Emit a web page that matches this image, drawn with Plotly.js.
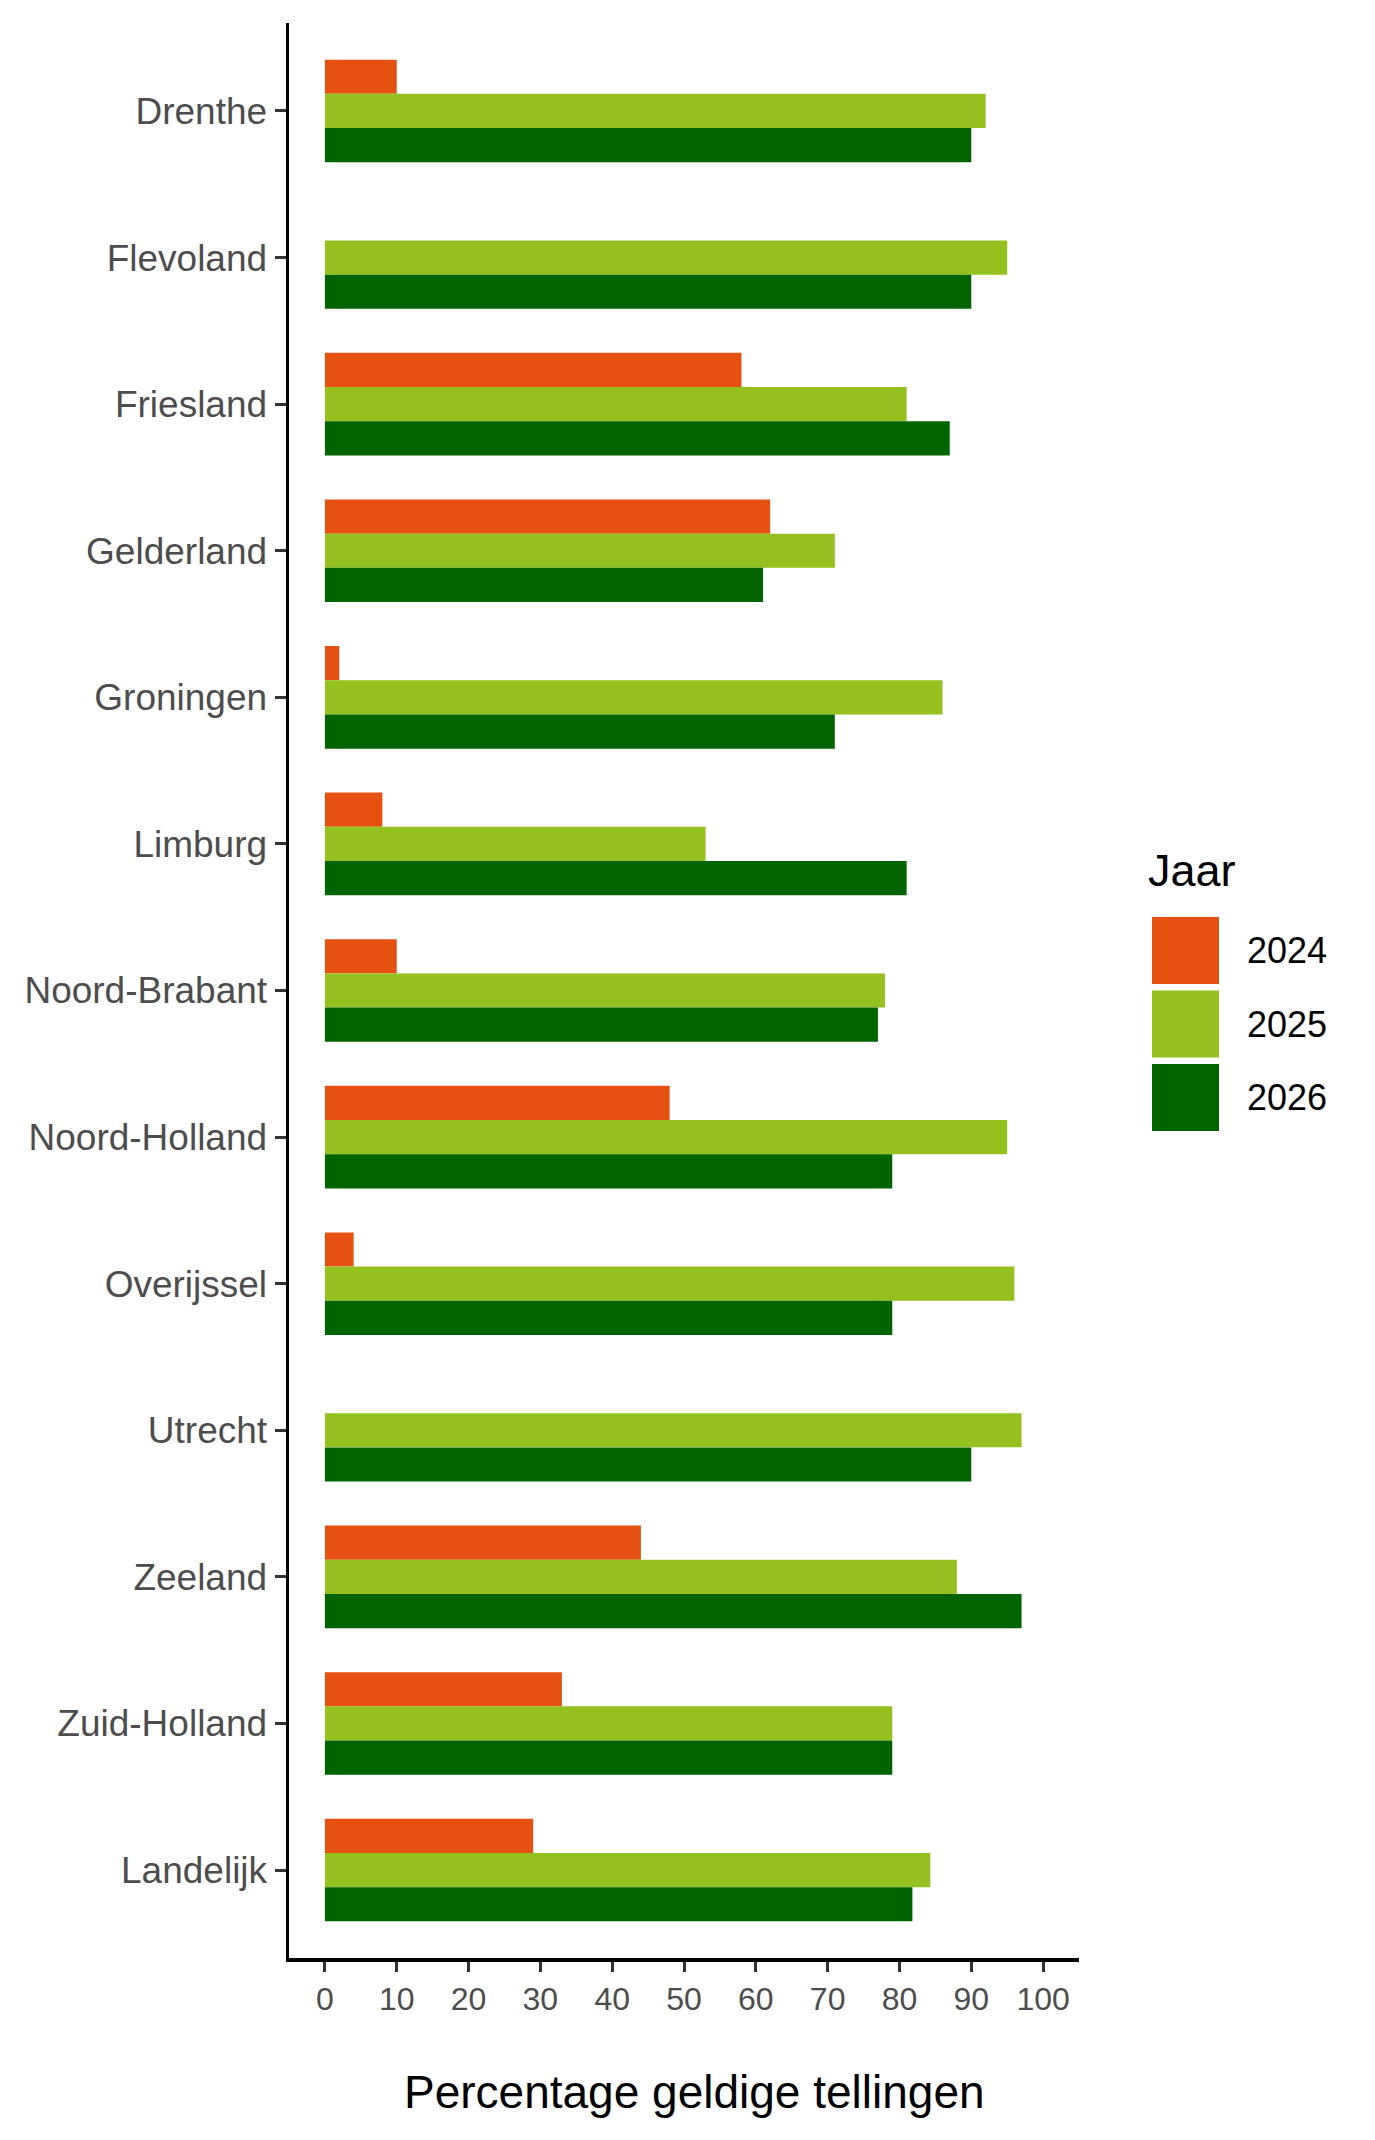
<!DOCTYPE html>
<html>
<head>
<meta charset="utf-8">
<script src="https://cdn.plot.ly/plotly-3.0.1.min.js"></script>
<style>
	html, body { margin: 0; padding: 0; background: #fff; }
	#chart { width: 1375px; height: 2140px; }
</style>
</head>
<body>
<div id="chart"></div>
<script>
// --- DATA ---
const provinces = ['Drenthe', 'Flevoland', 'Friesland', 'Gelderland', 'Groningen', 'Limburg',
	'Noord-Brabant', 'Noord-Holland', 'Overijssel', 'Utrecht', 'Zeeland', 'Zuid-Holland', 'Landelijk'];
const years = ['2024', '2025', '2026'];
const pct2024 = [10, 0, 58, 62, 2, 8, 10, 48, 4, 0, 44, 33, 29];
const pct2025 = [92, 95, 81, 71, 86, 53, 78, 95, 96, 97, 88, 79, 84.3];
const pct2026 = [90, 90, 87, 61, 71, 81, 77, 79, 79, 90, 97, 79, 81.8];
const xTicks = [0, 10, 20, 30, 40, 50, 60, 70, 80, 90, 100];
const colors = ['#E65011', '#95C11F', '#006400'];

const FONT = 'Liberation Sans, Arial, sans-serif';

// plot area in px (matches ggplot panel)
const L = 289, R = 1079, T = 23, B = 1958;
const W = 1375, H = 2140;
const px = x => (x - L) / (R - L);
const py = y => (B - y) / (B - T);

// Traces
const series = [pct2024, pct2025, pct2026];
const traces = series.map((vals, i) => ({
	type: 'bar',
	orientation: 'h',
	name: years[i],
	y: provinces,
	x: vals,
	marker: { color: colors[i], line: { width: 0 } },
	hoverinfo: 'x+y+name',
	showlegend: false
}));

// Custom legend (big square keys like ggplot)
const shapes = [];
const annotations = [];
const keyX0 = 1152, keySize = 67, keyTop = 917, keyStep = 73.5;
years.forEach((yr, i) => {
	const top = keyTop + i * keyStep;
	shapes.push({
		type: 'rect', xref: 'paper', yref: 'paper',
		x0: px(keyX0), x1: px(keyX0 + keySize),
		y0: py(top + keySize), y1: py(top),
		fillcolor: colors[i], line: { width: 0 }
	});
	annotations.push({
		xref: 'paper', yref: 'paper', showarrow: false,
		x: px(1245), y: py(top + keySize / 2),
		xanchor: 'left', yanchor: 'middle',
		text: yr, font: { family: FONT, size: 36, color: '#000' }
	});
});
annotations.push({
	xref: 'paper', yref: 'paper', showarrow: false,
	x: px(1146), y: py(870),
	xanchor: 'left', yanchor: 'middle',
	text: 'Jaar', font: { family: FONT, size: 45, color: '#000' }
});

// x-axis title (ggplot places it slightly right of panel centre)
annotations.push({
	xref: 'paper', yref: 'paper', showarrow: false,
	x: px(694), y: py(2092),
	xanchor: 'center', yanchor: 'middle',
	text: 'Percentage geldige tellingen', font: { family: FONT, size: 46, color: '#000' }
});

const layout = {
	width: W,
	height: H,
	paper_bgcolor: '#fff',
	plot_bgcolor: '#fff',
	barmode: 'group',
	bargap: 0.3,
	bargroupgap: 0,
	margin: { l: L, r: W - R, t: T, b: H - B, pad: 0 },
	font: { family: FONT },
	xaxis: {
		range: [-5, 105],
		tickvals: xTicks,
		ticktext: xTicks.map(String),
		showgrid: false,
		zeroline: false,
		showline: true,
		linecolor: '#000',
		linewidth: 3.5,
		ticks: 'outside',
		ticklen: 10,
		tickwidth: 3,
		tickcolor: '#333',
		tickfont: { family: FONT, size: 32, color: '#4D4D4D' }
	},
	yaxis: {
		type: 'category',
		categoryorder: 'array',
		categoryarray: provinces,
		range: [provinces.length - 0.4, -0.6],
		showgrid: false,
		zeroline: false,
		showline: true,
		linecolor: '#000',
		linewidth: 3.5,
		ticks: 'outside',
		ticklen: 11,
		tickwidth: 3,
		tickcolor: '#333',
		tickfont: { family: FONT, size: 37, color: '#4D4D4D' }
	},
	shapes: shapes,
	annotations: annotations
};

Plotly.newPlot('chart', traces, layout, { displayModeBar: false, staticPlot: true });
</script>
</body>
</html>
